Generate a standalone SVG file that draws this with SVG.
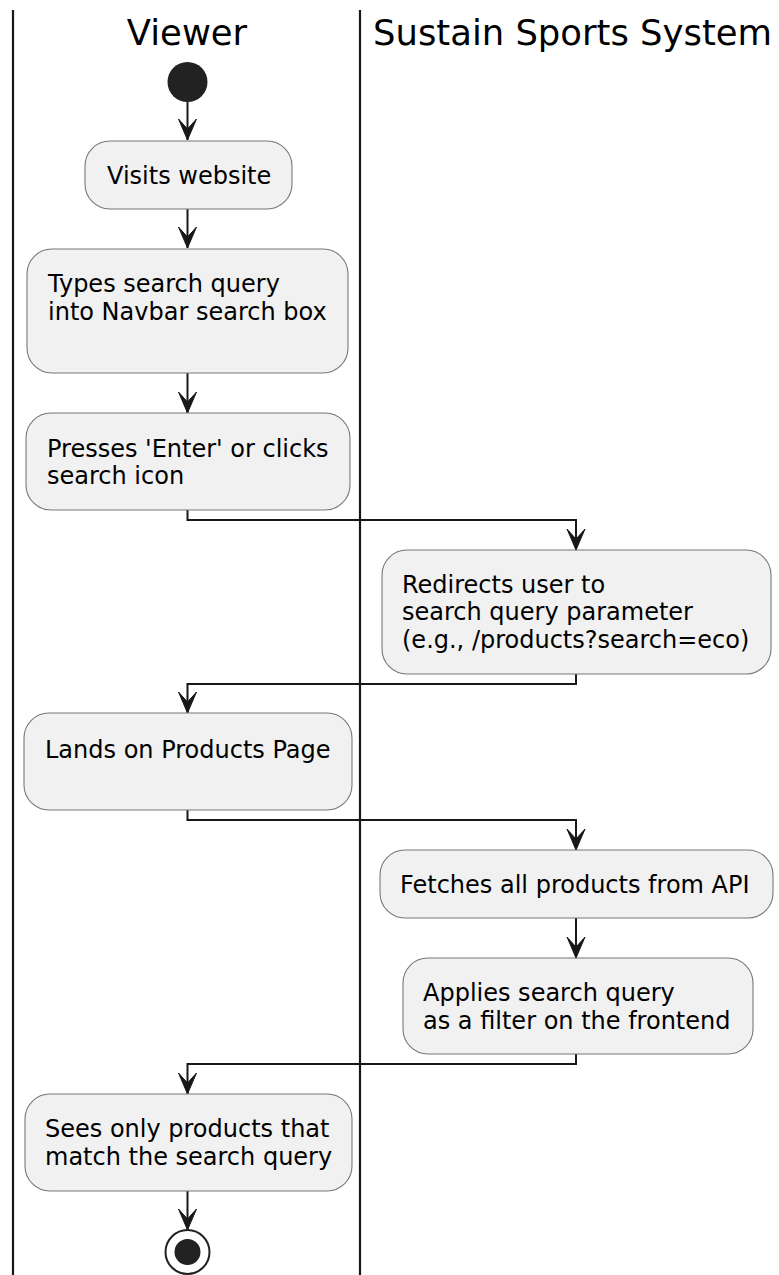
<svg xmlns="http://www.w3.org/2000/svg" width="779" height="1275" viewBox="0 0 779 1275">
  <style>
    .lane { stroke: #181818; stroke-width: 2.2; fill: none; }
    .title { font-family: "DejaVu Sans", "Liberation Sans", sans-serif; font-size: 35.4px; fill: #000; }
    .box { fill: #F1F1F1; stroke: #777777; stroke-width: 1.1; }
    .label { font-family: "DejaVu Sans", "Liberation Sans", sans-serif; font-size: 24px; fill: #000; }
    .edge { stroke: #181818; stroke-width: 2; fill: none; }
    .head { fill: #181818; stroke: #181818; stroke-width: 1; }
  </style>
  <defs>
    <marker id="arrow" markerUnits="userSpaceOnUse" viewBox="-11 -23 22 24" refX="0" refY="0" markerWidth="22" markerHeight="24" orient="0">
      <path class="head" d="M -9 -21 L 0 0 L 9 -21 L 0 -11 Z"/>
    </marker>
  </defs>
  <rect width="779" height="1275" fill="#FFFFFF"/>

  <!-- swimlanes -->
  <g id="lanes">
    <line class="lane" x1="13" y1="10" x2="13" y2="1275"/>
    <line class="lane" x1="360" y1="10" x2="360" y2="1275"/>
    <text class="title" x="187" y="45" text-anchor="middle">Viewer</text>
    <text class="title" x="373" y="45">Sustain Sports System</text>
  </g>

  <!-- connectors -->
  <g id="connectors">
    <path class="edge" d="M 187.5 102 L 187.5 140" marker-end="url(#arrow)"/>
    <path class="edge" d="M 187.5 209 L 187.5 248" marker-end="url(#arrow)"/>
    <path class="edge" d="M 187.5 373 L 187.5 413" marker-end="url(#arrow)"/>
    <path class="edge" d="M 187.5 510 L 187.5 520 L 576 520 L 576 550" marker-end="url(#arrow)"/>
    <path class="edge" d="M 576 674 L 576 684 L 187.5 684 L 187.5 713" marker-end="url(#arrow)"/>
    <path class="edge" d="M 187.5 810 L 187.5 820 L 576 820 L 576 850" marker-end="url(#arrow)"/>
    <path class="edge" d="M 576 918 L 576 958" marker-end="url(#arrow)"/>
    <path class="edge" d="M 576 1054 L 576 1064 L 187.5 1064 L 187.5 1094" marker-end="url(#arrow)"/>
    <path class="edge" d="M 187.5 1191 L 187.5 1230" marker-end="url(#arrow)"/>
  </g>

  <g id="start">
    <circle cx="187.5" cy="82" r="20" fill="#222222"/>
  </g>

  <g id="visits-website">
    <rect class="box" x="85" y="141" width="207" height="68" rx="25" ry="25"/>
    <text class="label" x="107" y="184">Visits website</text>
  </g>

  <g id="types-query">
    <rect class="box" x="27" y="249" width="321" height="124" rx="25" ry="25"/>
    <text class="label" x="48" y="292">Types search query</text>
    <text class="label" x="48" y="320">into Navbar search box</text>
  </g>

  <g id="presses-enter">
    <rect class="box" x="26" y="413" width="324" height="97" rx="25" ry="25"/>
    <text class="label" x="47" y="457">Presses 'Enter' or clicks</text>
    <text class="label" x="47" y="484">search icon</text>
  </g>

  <g id="redirects-user">
    <rect class="box" x="382" y="550" width="389" height="124" rx="25" ry="25"/>
    <text class="label" x="402" y="593">Redirects user to</text>
    <text class="label" x="402" y="620">search query parameter</text>
    <text class="label" x="402" y="648">(e.g., /products?search=eco)</text>
  </g>

  <g id="lands-products">
    <rect class="box" x="24" y="713" width="328" height="97" rx="25" ry="25"/>
    <text class="label" x="45" y="758">Lands on Products Page</text>
  </g>

  <g id="fetches-products">
    <rect class="box" x="380" y="850" width="393" height="68" rx="25" ry="25"/>
    <text class="label" x="400" y="893">Fetches all products from API</text>
  </g>

  <g id="applies-filter">
    <rect class="box" x="403" y="958" width="350" height="96" rx="25" ry="25"/>
    <text class="label" x="423" y="1001">Applies search query</text>
    <text class="label" x="423" y="1029">as a filter on the frontend</text>
  </g>

  <g id="sees-products">
    <rect class="box" x="25" y="1094" width="327" height="97" rx="25" ry="25"/>
    <text class="label" x="45" y="1137">Sees only products that</text>
    <text class="label" x="45" y="1165">match the search query</text>
  </g>

  <g id="end">
    <circle cx="187.5" cy="1252" r="22" fill="#FFFFFF" stroke="#222222" stroke-width="2"/>
    <circle cx="187.5" cy="1252" r="13" fill="#222222"/>
  </g>
</svg>
